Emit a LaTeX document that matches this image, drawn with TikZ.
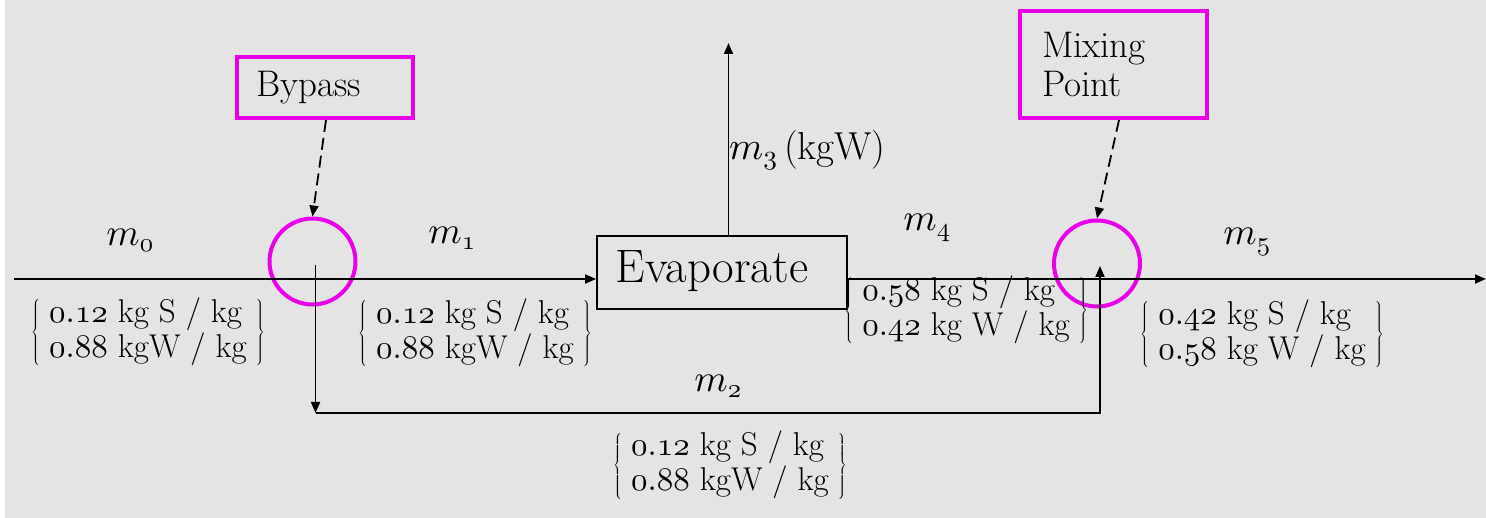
\documentclass[tikz,border=0pt]{standalone}
\DeclareFontFamily{OML}{cmm}{\skewchar\font127 }
\DeclareFontShape{OML}{cmm}{m}{it}{<-> cmmi10}{}
\DeclareFontShape{OMS}{cmsy}{m}{n}{<-> cmsy10}{}
\DeclareFontShape{OT1}{cmr}{m}{n}{<-> cmr10}{}
\usetikzlibrary{arrows.meta}
\definecolor{bg}{HTML}{E4E4E4}
\definecolor{mag}{HTML}{E800E8}
\newcommand{\osn}[1]{$\mathnormal{#1}$}
\newcommand{\grp}[2]{$\left\{\begin{array}{@{\;}l@{\;}}\mbox{#1}\\\mbox{#2}\end{array}\right\}$}
\tikzset{
  flow/.style={draw=black, line width=1.8pt, -{Triangle[length=11pt,width=9pt]}},
  pointer/.style={draw=black, line width=1.8pt, dash pattern=on 12pt off 6pt, -{Triangle[length=11pt,width=9pt]}},
  junction/.style={circle, draw=mag, line width=4pt, minimum size=86pt, inner sep=0pt},
  tag/.style={rectangle, draw=mag, line width=4pt, inner sep=0pt, align=left, font=\fontsize{37}{39}\selectfont},
  unit/.style={rectangle, draw=black, line width=1.8pt, minimum width=250pt, minimum height=73pt},
  comp/.style={inner sep=0pt, font=\fontsize{33}{35}\selectfont},
  flowlbl/.style={inner sep=0pt, font=\fontsize{38}{42}\selectfont},
}
\begin{document}
\begin{tikzpicture}[x=1pt,y=-1pt]
\useasboundingbox (0,0) rectangle (1486,518);
\fill[bg] (0,0) rectangle (1486,518);
\fill[white] (0,0) rectangle (5,518);

% units and tags
\node[unit] (evap) at (722,272.5) {};
\node[inner sep=0pt, font=\fontsize{47}{50}\selectfont] (evaptxt) at (712,271) {Evaporate};
\node[junction] (byp) at (312.5,261.5) {};
\node[junction] (mix) at (1097,263.5) {};
\node[tag, minimum width=176pt, minimum height=61pt, text width=138pt] (bypass) at (325,87.5) {Bypass};
\node[tag, minimum width=187pt, minimum height=107pt, text width=143pt] (mixing) at (1113.5,64.5) {Mixing\\Point};

% coordinates
\coordinate (in) at (14,279);
\coordinate (out) at (1486,279);
\coordinate (b0) at (315.5,265);
\coordinate (b1) at (315.5,413);
\coordinate (b2) at (1100,413);
\coordinate (b3) at (1100,266);
\coordinate (vap) at (728.5,43);
\coordinate (bt) at (326,120);
\coordinate (mt) at (1119,120);

% flows
\draw[flow] (in) -- (in -| evap.west);
\draw[flow] (evap.east |- in) -- (out);
\draw[flow] (evap.north -| vap) -- (vap);
\draw[flow] (b0) -- (b1);
\draw[flow] (b1) -- (b2) -- (b3);

% pointers
\draw[pointer] (bt) -- (byp.north);
\draw[pointer] (mt) -- (mix.north);

% labels
\node[flowlbl] (m0) at (130,240) {$m_{\mathnormal{0}}$};
\node[flowlbl] (m1) at (452,238) {$m_{\mathnormal{1}}$};
\node[flowlbl] (m4) at (927,228) {$m_{\mathnormal{4}}$};
\node[flowlbl] (m5) at (1247,242) {$m_{\mathnormal{5}}$};
\node[flowlbl] (m2) at (718,386) {$m_{\mathnormal{2}}$};
\node[flowlbl, anchor=west, font=\fontsize{39}{42}\selectfont] (m3) at (729,150) {$m_{\mathnormal{3}}$\,(kgW)};

% compositions
\node[comp] (g0) at (148,333) {\grp{\osn{0.12} kg S / kg}{\osn{0.88} kgW / kg}};
\node[comp] (g1) at (475,334) {\grp{\osn{0.12} kg S / kg}{\osn{0.88} kgW / kg}};
\node[comp] (g4) at (966,311) {\grp{\osn{0.58} kg S / kg}{\osn{0.42} kg W / kg}};
\node[comp] (g5) at (1262,335) {\grp{\osn{0.42} kg S / kg}{\osn{0.58} kg W / kg}};
\node[comp] (g2) at (730,466) {\grp{\osn{0.12} kg S / kg}{\osn{0.88} kgW / kg}};
\end{tikzpicture}
\end{document}
